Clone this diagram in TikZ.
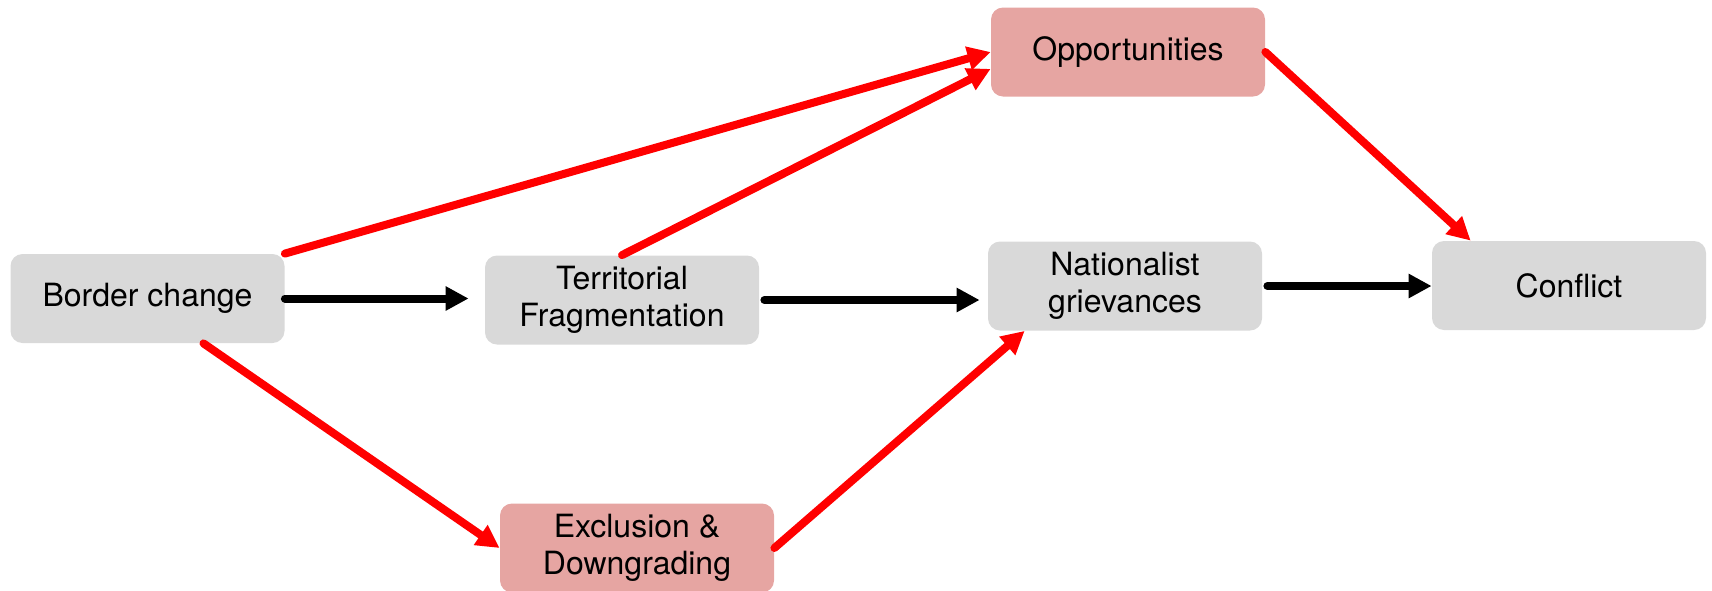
\documentclass[tikz,border=0pt]{standalone}
\usepackage{fontspec}
\setmainfont{TeX Gyre Heros}
\usetikzlibrary{arrows.meta}
\definecolor{cinza}{HTML}{D9D9D9}
\definecolor{rosa}{HTML}{E6A5A2}
\definecolor{vermelho}{HTML}{FF0000}

\begin{document}
\begin{tikzpicture}[x=0.5pt,y=-0.5pt,
		caixa/.style={rounded corners=6pt, minimum width=137pt, minimum height=44.5pt, inner sep=0pt, align=center, font=\fontsize{16}{18.5}\selectfont},
		neutra/.style={caixa, fill=cinza},
		destaque/.style={caixa, fill=rosa},
		seta/.style={line width=4pt, line cap=round, -{Triangle[length=11.5pt,width=11.5pt]}},
		setapreta/.style={seta, black},
		setavermelha/.style={seta, vermelho}]
			\useasboundingbox (0,0) rectangle (1712,590);
			% Caixas
			\node[neutra] (borda) at (147.5,298.5) {Border change};
			\node[neutra] (terr) at (622,300) {Territorial\\Fragmentation};
			\node[destaque] (excl) at (637,548) {Exclusion \&\\Downgrading};
			\node[destaque] (opor) at (1128,52) {Opportunities};
			\node[neutra] (nac) at (1125,286) {Nationalist\\grievances};
			\node[neutra] (conf) at (1569,285.5) {Conflict};
			% Setas pretas
			\draw[setapreta, shorten >=8pt] (borda.east) -- (borda.east -| terr.west);
			\draw[setapreta, shorten <=2.5pt, shorten >=4pt] (terr.east) -- (terr.east -| nac.west);
			\draw[setapreta, shorten <=2.5pt] (nac.east) -- (nac.east -| conf.west);
			% Setas vermelhas
			\draw[setavermelha] (borda.north east) -- (opor.west);
			\draw[setavermelha] (terr.north) -- ([yshift=14pt]opor.south west);
			\draw[setavermelha] (opor.east) -- ([xshift=19.5pt]conf.north west);
			\draw[setavermelha] ([xshift=28pt]borda.south) -- (excl.west);
			\draw[setavermelha] (excl.east) -- ([xshift=18.5pt]nac.south west);
\end{tikzpicture}
\end{document}
